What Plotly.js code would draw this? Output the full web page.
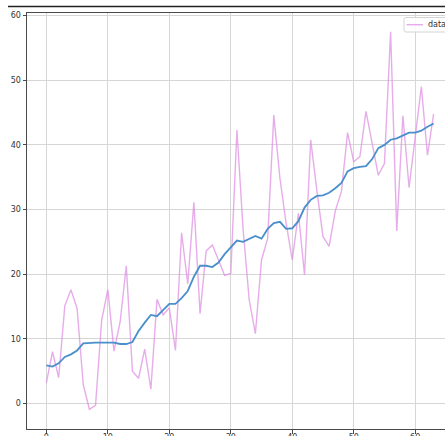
<!DOCTYPE html>
<html>
<head>
<meta charset="utf-8">
<script src="https://cdn.plot.ly/plotly-3.0.1.min.js"></script>
<style>
html,body{margin:0;padding:0;background:#fff;overflow:hidden;width:445px;height:436px;}
#chart{width:470px;height:436px;}
</style>
</head>
<body>
<div id="chart"></div>
<script>
// ---- data ----
const xValues = Array.from({length: 64}, (_, i) => i);
const dataSeries = [3.2, 8.0, 4.0, 15.1, 17.6, 14.7, 2.9, -0.9, -0.3, 12.9,
  17.6, 8.1, 12.6, 21.3, 5.0, 3.9, 8.4, 2.2, 16.1, 13.7,
  14.8, 8.2, 26.4, 18.5, 31.1, 13.9, 23.6, 24.5, 22.2, 19.8,
  20.1, 42.3, 27.0, 16.0, 10.8, 22.2, 25.5, 44.6, 34.8, 27.9,
  22.2, 29.4, 19.9, 40.8, 33.0, 25.8, 24.3, 29.8, 32.8, 41.9,
  37.4, 38.2, 45.2, 40.2, 35.3, 37.1, 57.5, 26.7, 44.5, 33.4,
  40.8, 49.0, 38.4, 44.8];
const smoothSeries = [5.9, 5.7, 6.2, 7.2, 7.6, 8.2, 9.3, 9.4, 9.4, 9.4,
  9.4, 9.4, 9.2, 9.2, 9.5, 11.2, 12.5, 13.7, 13.5, 14.4,
  15.4, 15.4, 16.3, 17.4, 19.6, 21.3, 21.3, 21.1, 21.8, 23.1,
  24.2, 25.2, 25.0, 25.5, 25.9, 25.5, 27.0, 27.9, 28.1, 27.0,
  27.1, 28.2, 30.3, 31.5, 32.1, 32.2, 32.6, 33.3, 34.1, 35.9,
  36.4, 36.6, 36.7, 37.8, 39.5, 40.0, 40.8, 41.0, 41.5, 41.9,
  41.9, 42.2, 42.8, 43.3];
const legendLabels = ["data"];
const tickValues = [0, 10, 20, 30, 40, 50, 60];

// ---- layout geometry ----
const W = 470, H = 436;
const M = {l: 27, r: 17, t: 13, b: 7};
const PW = W - M.l - M.r, PH = H - M.t - M.b;
const px2x = p => (p - M.l) / PW;
const py2y = p => 1 - (p - M.t) / PH;

const pink = 'rgba(222,140,226,0.72)';
const blue = '#4a8fcb';

const traces = [
  {x: xValues, y: dataSeries, type: 'scatter', mode: 'lines', name: legendLabels[0],
   line: {color: pink, width: 1.4}, showlegend: false, hoverinfo: 'skip'},
  {x: xValues, y: smoothSeries, type: 'scatter', mode: 'lines', name: 'smoothed',
   line: {color: blue, width: 1.8}, showlegend: false, hoverinfo: 'skip'}
];

// legend frame (rounded) in paper coords
function roundRect(x0, y0, x1, y1, r) {
  const X = px2x, Y = py2y;
  return `M${X(x0 + r)},${Y(y0)} L${X(x1 - r)},${Y(y0)} Q${X(x1)},${Y(y0)} ${X(x1)},${Y(y0 + r)} ` +
         `L${X(x1)},${Y(y1 - r)} Q${X(x1)},${Y(y1)} ${X(x1 - r)},${Y(y1)} L${X(x0 + r)},${Y(y1)} ` +
         `Q${X(x0)},${Y(y1)} ${X(x0)},${Y(y1 - r)} L${X(x0)},${Y(y0 + r)} Q${X(x0)},${Y(y0)} ${X(x0 + r)},${Y(y0)} Z`;
}

const axisCommon = {
  showgrid: true, gridcolor: '#d6d6d6', gridwidth: 1,
  zeroline: false, showline: true, linecolor: '#4a4a4a', linewidth: 1, mirror: true,
  ticks: 'outside', ticklen: 3.5, tickwidth: 1, tickcolor: '#4a4a4a',
  tickfont: {family: 'DejaVu Sans', size: 8, color: '#333'},
  tickmode: 'array', tickvals: tickValues
};

const layout = {
  width: W, height: H,
  margin: M,
  paper_bgcolor: '#fff', plot_bgcolor: '#fff',
  showlegend: false,
  xaxis: Object.assign({}, axisCommon, {range: [-3.15, 66.15], ticklabelstandoff: -3}),
  yaxis: Object.assign({}, axisCommon, {range: [-3.95, 60.4]}),
  shapes: [
    {type: 'line', xref: 'paper', yref: 'paper', x0: px2x(8), x1: px2x(470), y0: py2y(6.5), y1: py2y(6.5),
     line: {color: '#222', width: 1.5}, layer: 'above'},
    {type: 'path', xref: 'paper', yref: 'paper', path: roundRect(404, 17.5, 448, 32, 2),
     fillcolor: 'rgba(255,255,255,0.85)', line: {color: '#d4d4d4', width: 1}, layer: 'above'},
    {type: 'line', xref: 'paper', yref: 'paper', x0: px2x(406.5), x1: px2x(423), y0: py2y(24.7), y1: py2y(24.7),
     line: {color: pink, width: 1.5}, layer: 'above'}
  ],
  annotations: [
    {xref: 'paper', yref: 'paper', x: px2x(426), y: py2y(24.7), xanchor: 'left', yanchor: 'middle',
     text: legendLabels[0], showarrow: false, font: {family: 'DejaVu Sans', size: 8, color: '#333'}}
  ]
};

Plotly.newPlot('chart', traces, layout, {staticPlot: true, displayModeBar: false});
</script>
</body>
</html>
